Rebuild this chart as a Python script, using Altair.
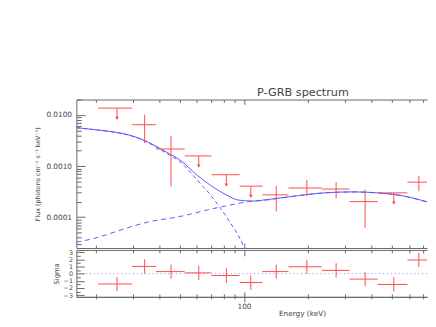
import altair as alt
import pandas as pd

# ---------------- data ----------------
bin_lo = [20.5, 29.7, 38.5, 52.5, 70.2, 95.4, 122.2, 162.2, 232.5, 315.2, 427.5, 590.0]
bin_hi = [29.7, 38.5, 52.5, 70.2, 95.4, 122.2, 162.2, 232.5, 315.2, 427.5, 590.0, 760.0]
bin_mid = [25.2, 34.0, 45.3, 61.2, 82.6, 107.7, 142.0, 198.0, 272.0, 372.6, 509.0, 668.0]
flux = [0.0136, 0.00645, 0.00216, 0.00158, 0.000677, 0.000406, 0.000274, 0.000373,
        0.000356, 0.000202, 0.000299, 0.000485]
flux_lo = [None, 0.00280, 0.000400, None, None, None, 0.000130, 0.000258,
           0.000233, 0.0000625, None, 0.000321]
flux_hi = [None, 0.01013, 0.00391, None, None, None, 0.000406, 0.000537,
           0.000485, 0.000346, None, 0.000640]
upper_limit = [True, False, False, True, True, True, False, False, False, False, True, False]
sigma = [-1.45, 1.0, 0.28, 0.1, -0.27, -1.25, 0.28, 0.95, 0.45, -0.77, -1.52, 1.9]
sigma_err = [1.0, 1.0, 1.0, 1.0, 1.0, 1.0, 1.0, 1.0, 1.0, 1.0, 1.0, 1.0]

total_e = [16.2, 21.0, 25.9, 30.9, 34.4, 42.5, 50.7, 60.5, 69.7, 83.2, 94.2, 110.5,
           122.8, 162.9, 249.0, 330.5, 427.6, 542.6, 730.0]
total_f = [0.00565, 0.00502, 0.00446, 0.0037, 0.0031, 0.00194, 0.00125, 0.000648,
           0.000418, 0.000269, 0.000216, 0.000207, 0.000216, 0.000251, 0.000303,
           0.000313, 0.000299, 0.000269, 0.000200]
cut_e = [16.2, 21.0, 25.9, 30.9, 34.4, 42.5, 50.7, 54.5, 60.5, 69.7, 77.5, 86.2, 94.2, 101.0]
cut_f = [0.00562, 0.00498, 0.00441, 0.00365, 0.00302, 0.00184, 0.00115, 0.00085,
         0.00052, 0.000269, 0.00015, 0.0000779, 0.0000435, 0.000024]
pl_e = [16.2, 21.0, 24.1, 36.9, 47.3, 54.5, 69.7, 83.2, 94.2, 106.6, 122.8, 162.9,
        249.0, 330.5, 427.6, 542.6, 730.0]
pl_f = [0.0000324, 0.0000416, 0.0000502, 0.0000839, 0.000099, 0.000112, 0.000144,
        0.000168, 0.000187, 0.000204, 0.000213, 0.000250, 0.000302, 0.000312,
        0.000298, 0.000268, 0.000199]

x_ticks = [20, 30, 40, 50, 60, 70, 80, 90, 100, 200, 300, 400, 500, 600, 700]
y_ticks = [3e-5, 4e-5, 5e-5, 6e-5, 7e-5, 8e-5, 9e-5,
           1e-4, 2e-4, 3e-4, 4e-4, 5e-4, 6e-4, 7e-4, 8e-4, 9e-4,
           1e-3, 2e-3, 3e-3, 4e-3, 5e-3, 6e-3, 7e-3, 8e-3, 9e-3, 1e-2, 2e-2]
y_labels = [1e-4, 1e-3, 1e-2]
r_ticks = [-3, -2.5, -2, -1.5, -1, -0.5, 0, 0.5, 1, 1.5, 2, 2.5, 3]
r_labels = [-3, -2, -1, 0, 1, 2, 3]

# ---------------- styling ----------------
W, H1, H2 = 359, 152, 48
RED = "#ff4a4a"
BLUE = "#5858ff"
AX = "#666666"
TXT = "#444444"
FONT = "DejaVu Sans"
ARROW_DEC = 0.2  # length of upper-limit arrows, in decades

spec = pd.DataFrame(dict(lo=bin_lo, hi=bin_hi, mid=bin_mid, f=flux, flo=flux_lo,
                         fhi=flux_hi, ul=upper_limit, s=sigma, se=sigma_err))
spec["tip"] = spec["f"] / (10 ** ARROW_DEC)
spec["slo"] = spec["s"] - spec["se"]
spec["shi"] = spec["s"] + spec["se"]
det = spec[~spec["ul"]]
uls = spec[spec["ul"]]
tot = pd.DataFrame(dict(e=total_e, f=total_f))
cut = pd.DataFrame(dict(e=cut_e, f=cut_f))
pl = pd.DataFrame(dict(e=pl_e, f=pl_f))
zero = pd.DataFrame(dict(z=[0]))

xs = alt.Scale(type="log", domain=[16.2, 730], nice=False)
ys = alt.Scale(type="log", domain=[2.5e-5, 0.02], nice=False)
rs = alt.Scale(type="linear", domain=[-3.25, 3.3], nice=False, zero=False)

XMAJ = "datum.value == 100"
YMAJ = "abs(log(datum.value)/LN10 - round(log(datum.value)/LN10)) < 0.01"
RMAJ = "datum.value == round(datum.value)"


def tsize(test, big, small):
    return {"condition": {"test": test, "value": big}, "value": small}


def tick_axis(orient, offset, values, size):
    return alt.Axis(orient=orient, offset=offset, values=values, labels=False,
                    title=None, grid=False, domain=True, domainColor=AX,
                    tickColor=AX, tickSize=size)


# ---------------- main panel ----------------
m_tot = alt.Chart(tot).mark_line(color=BLUE, strokeWidth=1, interpolate="monotone", clip=True).encode(
    x=alt.X("e:Q", scale=xs, axis=tick_axis("bottom", -H1, x_ticks, tsize(XMAJ, 5, 3))),
    y=alt.Y("f:Q", scale=ys, axis=tick_axis("right", -W, y_ticks, tsize(YMAJ, 9, 5))),
)
m_cut = alt.Chart(cut).mark_line(color=BLUE, strokeWidth=1, strokeDash=[4, 3],
                                  interpolate="monotone", clip=True).encode(
    x=alt.X("e:Q", scale=xs, axis=tick_axis("top", -H1, x_ticks, tsize(XMAJ, 5, 3))),
    y=alt.Y("f:Q", scale=ys, axis=alt.Axis(
        orient="left", values=y_labels, format=".4f", ticks=False, domain=False, grid=False,
        labelPadding=5, labelFontSize=7.5, labelColor=TXT, labelFont=FONT,
        title="Flux (photons cm⁻² s⁻¹ keV⁻¹)", titleFontSize=6.5, titleFont=FONT,
        titleFontWeight="normal", titleColor=TXT, titlePadding=6)),
)
m_pl = alt.Chart(pl).mark_line(color=BLUE, strokeWidth=1, strokeDash=[5, 4],
                               interpolate="monotone", clip=True).encode(
    x=alt.X("e:Q", scale=xs, axis=None),
    y=alt.Y("f:Q", scale=ys, axis=None),
)
m_hbar = alt.Chart(spec).mark_rule(color=RED, strokeWidth=1, clip=True).encode(
    x=alt.X("lo:Q", scale=xs, axis=None), x2="hi:Q",
    y=alt.Y("f:Q", scale=ys, axis=None),
)
m_vbar = alt.Chart(det).mark_rule(color=RED, strokeWidth=1, clip=True).encode(
    x=alt.X("mid:Q", scale=xs, axis=None),
    y=alt.Y("flo:Q", scale=ys, axis=None), y2="fhi:Q",
)
m_stem = alt.Chart(uls).mark_rule(color=RED, strokeWidth=1).encode(
    x=alt.X("mid:Q", scale=xs, axis=None),
    y=alt.Y("f:Q", scale=ys, axis=None), y2="tip:Q",
)
m_head = alt.Chart(uls).mark_point(shape="triangle-down", filled=True, size=14,
                                   color=RED, opacity=1).encode(
    x=alt.X("mid:Q", scale=xs, axis=None),
    y=alt.Y("tip:Q", scale=ys, axis=None),
)

main = alt.layer(m_tot, m_cut, m_pl, m_hbar, m_vbar, m_stem, m_head).properties(
    width=W, height=H1,
    title=alt.TitleParams("P-GRB spectrum", anchor="start", frame="group", dx=185,
                          fontSize=11.5, font=FONT, fontWeight="normal", color=TXT, offset=1),
).resolve_axis(x="independent", y="independent")

# ---------------- residual panel ----------------
r_hbar = alt.Chart(spec).mark_rule(color=RED, strokeWidth=1, clip=True).encode(
    x=alt.X("lo:Q", scale=xs, axis=alt.Axis(
        orient="bottom", values=x_ticks, labelExpr="datum.value == 100 ? '100' : ''",
        grid=False, domain=True, domainColor=AX, tickColor=AX, tickSize=tsize(XMAJ, 5, 2),
        labelPadding=1, labelFontSize=7.5, labelFont=FONT, labelColor=TXT,
        title="Energy (keV)", titleX=231, titleAlign="center", titleFontSize=7.5,
        titleFont=FONT, titleFontWeight="normal", titleColor=TXT, titlePadding=0)),
    x2="hi:Q",
    y=alt.Y("s:Q", scale=rs, axis=tick_axis("right", -W, r_ticks, tsize(RMAJ, 8, 4))),
)
r_vbar = alt.Chart(spec).mark_rule(color=RED, strokeWidth=1).encode(
    x=alt.X("mid:Q", scale=xs, axis=tick_axis("top", -H2, x_ticks, tsize(XMAJ, 5, 3))),
    y=alt.Y("slo:Q", scale=rs, axis=alt.Axis(
        orient="left", values=r_labels, format="d", ticks=False, domain=False, grid=False,
        labelPadding=4, labelFontSize=6.5, labelFont=FONT, labelColor=TXT,
        title="Sigma", titleFontSize=7, titleFont=FONT, titleFontWeight="normal",
        titleColor=TXT, titlePadding=4)),
    y2="shi:Q",
)
r_top = alt.Chart(spec).mark_point(opacity=0).encode(
    x=alt.X("mid:Q", scale=xs, axis=tick_axis("bottom", -H2, x_ticks, tsize(XMAJ, 6, 3))),
    y=alt.Y("s:Q", scale=rs, axis=None),
)
r_zero = alt.Chart(zero).mark_rule(color="#8c8cff", strokeWidth=1, strokeDash=[1, 3]).encode(
    y=alt.YDatum(0, scale=rs, axis=None),
)

resid = alt.layer(r_zero, r_hbar, r_vbar, r_top).properties(
    width=W, height=H2,
).resolve_axis(x="independent", y="independent")

chart = alt.vconcat(main, resid, spacing=0).properties(
    padding={"left": 26, "top": 77, "right": 0, "bottom": 0},
).configure_view(stroke=None)

chart.save("out.html", embed_options={"renderer": "svg", "actions": False})
